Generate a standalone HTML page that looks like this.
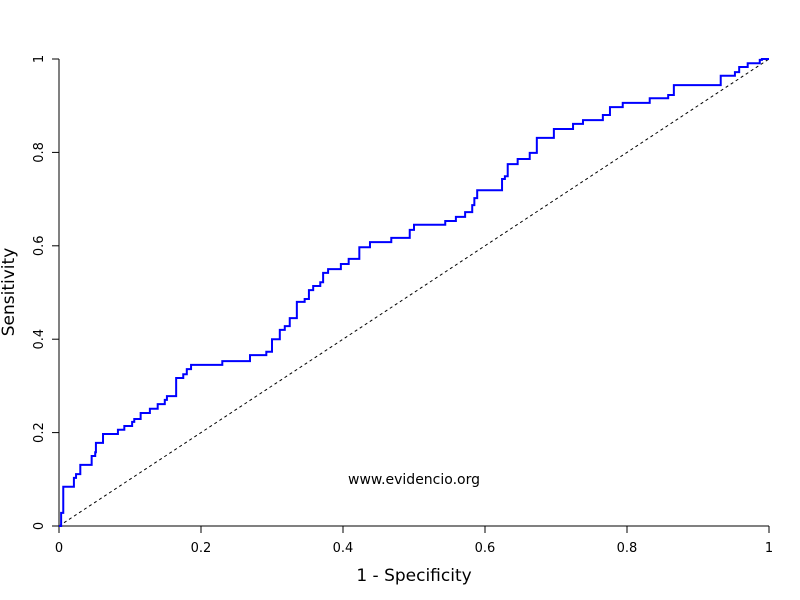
<!DOCTYPE html>
<html><head><meta charset="utf-8"><style>
body{margin:0;background:#fff}
svg{display:block;font-family:"DejaVu Sans","Liberation Sans",sans-serif}
</style></head><body>
<svg id="chart" width="800" height="600">
<g id="axes"></g>
<line x1="59" y1="526" x2="769" y2="59" stroke="#000" stroke-width="1" stroke-dasharray="3,3"/>
<path id="roc" fill="none" stroke="#0000ff" stroke-width="2"/>
<text x="414" y="484" font-size="14" text-anchor="middle">www.evidencio.org</text>
<text x="414" y="581" font-size="17" text-anchor="middle">1 - Specificity</text>
<text transform="translate(14,292) rotate(-90)" font-size="17" text-anchor="middle">Sensitivity</text>
</svg>
<script>
const fpr=[0,0.003,0.006,0.021,0.024,0.030,0.046,0.051,0.052,0.062,0.083,0.092,0.103,0.106,0.115,0.128,0.139,0.149,0.152,0.165,0.175,0.180,0.186,0.230,0.269,0.292,0.300,0.311,0.318,0.325,0.335,0.346,0.352,0.358,0.368,0.372,0.379,0.397,0.408,0.423,0.438,0.468,0.494,0.500,0.544,0.559,0.572,0.582,0.585,0.589,0.624,0.628,0.632,0.646,0.663,0.673,0.697,0.724,0.738,0.766,0.776,0.794,0.832,0.858,0.866,0.932,0.952,0.958,0.970,0.987,0.990,1];
const tpr=[0,0.028,0.084,0.103,0.111,0.131,0.150,0.158,0.178,0.197,0.206,0.214,0.223,0.229,0.242,0.251,0.261,0.270,0.278,0.317,0.325,0.336,0.345,0.353,0.366,0.373,0.400,0.420,0.428,0.445,0.480,0.486,0.505,0.514,0.522,0.542,0.550,0.561,0.572,0.597,0.608,0.617,0.634,0.645,0.653,0.662,0.672,0.687,0.702,0.719,0.743,0.749,0.775,0.786,0.799,0.831,0.850,0.861,0.869,0.880,0.897,0.906,0.916,0.923,0.944,0.964,0.972,0.983,0.991,0.998,1,1];
const ticks=[0,0.2,0.4,0.6,0.8,1];
const tickLabels=["0","0.2","0.4","0.6","0.8","1"];
const X=v=>59+v*710, Y=v=>526-v*467;
let d=`M${X(fpr[0])},${Y(tpr[0])}`;
for(let i=1;i<fpr.length;i++){d+=` H${X(fpr[i])} V${Y(tpr[i])}`;}
document.getElementById('roc').setAttribute('d',d);
const ns="http://www.w3.org/2000/svg",ax=document.getElementById('axes');
function mk(t,a,name){const e=document.createElementNS(ns,t);for(const k in a)e.setAttribute(k,a[k]);


ax.appendChild(e);return e;}
mk('line',{x1:59,y1:526,x2:769,y2:526,stroke:'#000'},'x-axis-line');
mk('line',{x1:59,y1:59,x2:59,y2:526,stroke:'#000'},'y-axis-line');
ticks.forEach((t,i)=>{
 mk('line',{x1:X(t),y1:526,x2:X(t),y2:533,stroke:'#000'},'x-tick');
 const tx=mk('text',{x:X(t),y:552,'font-size':13,'text-anchor':'middle'},'x-tick-label');tx.textContent=tickLabels[i];
 mk('line',{x1:52,y1:Y(t),x2:59,y2:Y(t),stroke:'#000'},'y-tick');
 const ty=mk('text',{transform:`translate(43,${Y(t)}) rotate(-90)`,'font-size':13,'text-anchor':'middle'},'y-tick-label');ty.textContent=tickLabels[i];
});
</script>
</body></html>
